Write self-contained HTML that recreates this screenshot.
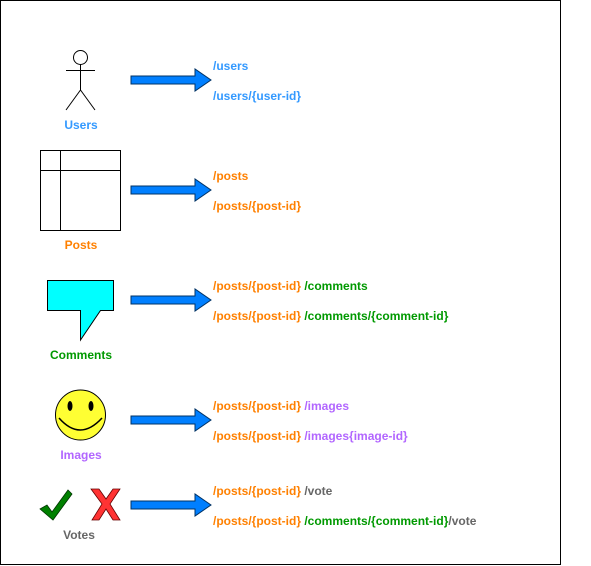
<!DOCTYPE html>
<html><head><style>body{margin:0;background:#fff}svg{display:block}text{font-family:"Liberation Sans",Arial,sans-serif;font-weight:bold;font-size:12px}</style></head>
<body>
<svg width="591" height="566" viewBox="0 0 591 566" xmlns="http://www.w3.org/2000/svg">
<rect x="0.5" y="0.5" width="560" height="564" fill="#fff" stroke="#000" stroke-width="1"/>
<defs><path id="arr" d="M0,-4 L64,-4 L64,-11 L80,0 L64,11 L64,4 L0,4 Z" fill="#007fff" stroke="#003366" stroke-width="1"/></defs>
<use href="#arr" x="131" y="80"/>
<use href="#arr" x="131" y="190"/>
<use href="#arr" x="131" y="300"/>
<use href="#arr" x="131" y="420"/>
<use href="#arr" x="131" y="505"/>
<g stroke="#000" fill="none" stroke-width="1">
<circle cx="80.5" cy="57.5" r="7"/>
<line x1="80.5" y1="64" x2="80.5" y2="90"/>
<line x1="66" y1="70.5" x2="95" y2="70.5"/>
<line x1="80.5" y1="90" x2="66" y2="110"/>
<line x1="80.5" y1="90" x2="95" y2="110"/>
<rect x="40.5" y="150.5" width="80" height="80"/>
<line x1="40.5" y1="170.5" x2="120.5" y2="170.5"/>
<line x1="60.5" y1="150.5" x2="60.5" y2="230.5"/>
</g>
<path d="M47.5,280.5 H113.5 V310.5 H100.5 L80.5,340 V310.5 H47.5 Z" fill="#00ffff" stroke="#000"/>
<circle cx="80.5" cy="415" r="25" fill="#ffff33" stroke="#000"/>
<ellipse cx="70" cy="406" rx="2.5" ry="5" fill="#000"/>
<ellipse cx="91" cy="406" rx="2.5" ry="5" fill="#000"/>
<path d="M59,418 Q80,442 102,418" fill="none" stroke="#000" stroke-width="1.5"/>
<path d="M40,509 L47,505 L52,512 L68,490 L72,494 L53,520 Z" fill="#008000" stroke="#003300" stroke-width="0.8"/>
<path d="M91,489 H99 L106,499 L113,489 H120 L110,504 L120,520 H113 L106,509 L99,520 H92 L102,504 Z" fill="#ff3333" stroke="#660000" stroke-width="0.8"/>
<g text-anchor="middle">
<text x="81" y="129" fill="#3399ff">Users</text>
<text x="81" y="249" fill="#ff8000">Posts</text>
<text x="81" y="359" fill="#009900">Comments</text>
<text x="81" y="459" fill="#b266ff">Images</text>
<text x="79" y="539" fill="#666">Votes</text>
</g>
<text x="213" y="70" fill="#3399ff">/users</text>
<text x="213" y="100" fill="#3399ff">/users/{user-id}</text>
<text x="213" y="180" fill="#ff8000">/posts</text>
<text x="213" y="210" fill="#ff8000">/posts/{post-id}</text>
<text x="213" y="290"><tspan fill="#ff8000">/posts/{post-id} </tspan><tspan fill="#009900">/comments</tspan></text>
<text x="213" y="320"><tspan fill="#ff8000">/posts/{post-id} </tspan><tspan fill="#009900">/comments/{comment-id}</tspan></text>
<text x="213" y="410"><tspan fill="#ff8000">/posts/{post-id} </tspan><tspan fill="#b266ff">/images</tspan></text>
<text x="213" y="440"><tspan fill="#ff8000">/posts/{post-id} </tspan><tspan fill="#b266ff">/images{image-id}</tspan></text>
<text x="213" y="495"><tspan fill="#ff8000">/posts/{post-id} </tspan><tspan fill="#666">/vote</tspan></text>
<text x="213" y="525"><tspan fill="#ff8000">/posts/{post-id} </tspan><tspan fill="#009900">/comments/{comment-id}</tspan><tspan fill="#666">/vote</tspan></text>
</svg>
</body></html>
